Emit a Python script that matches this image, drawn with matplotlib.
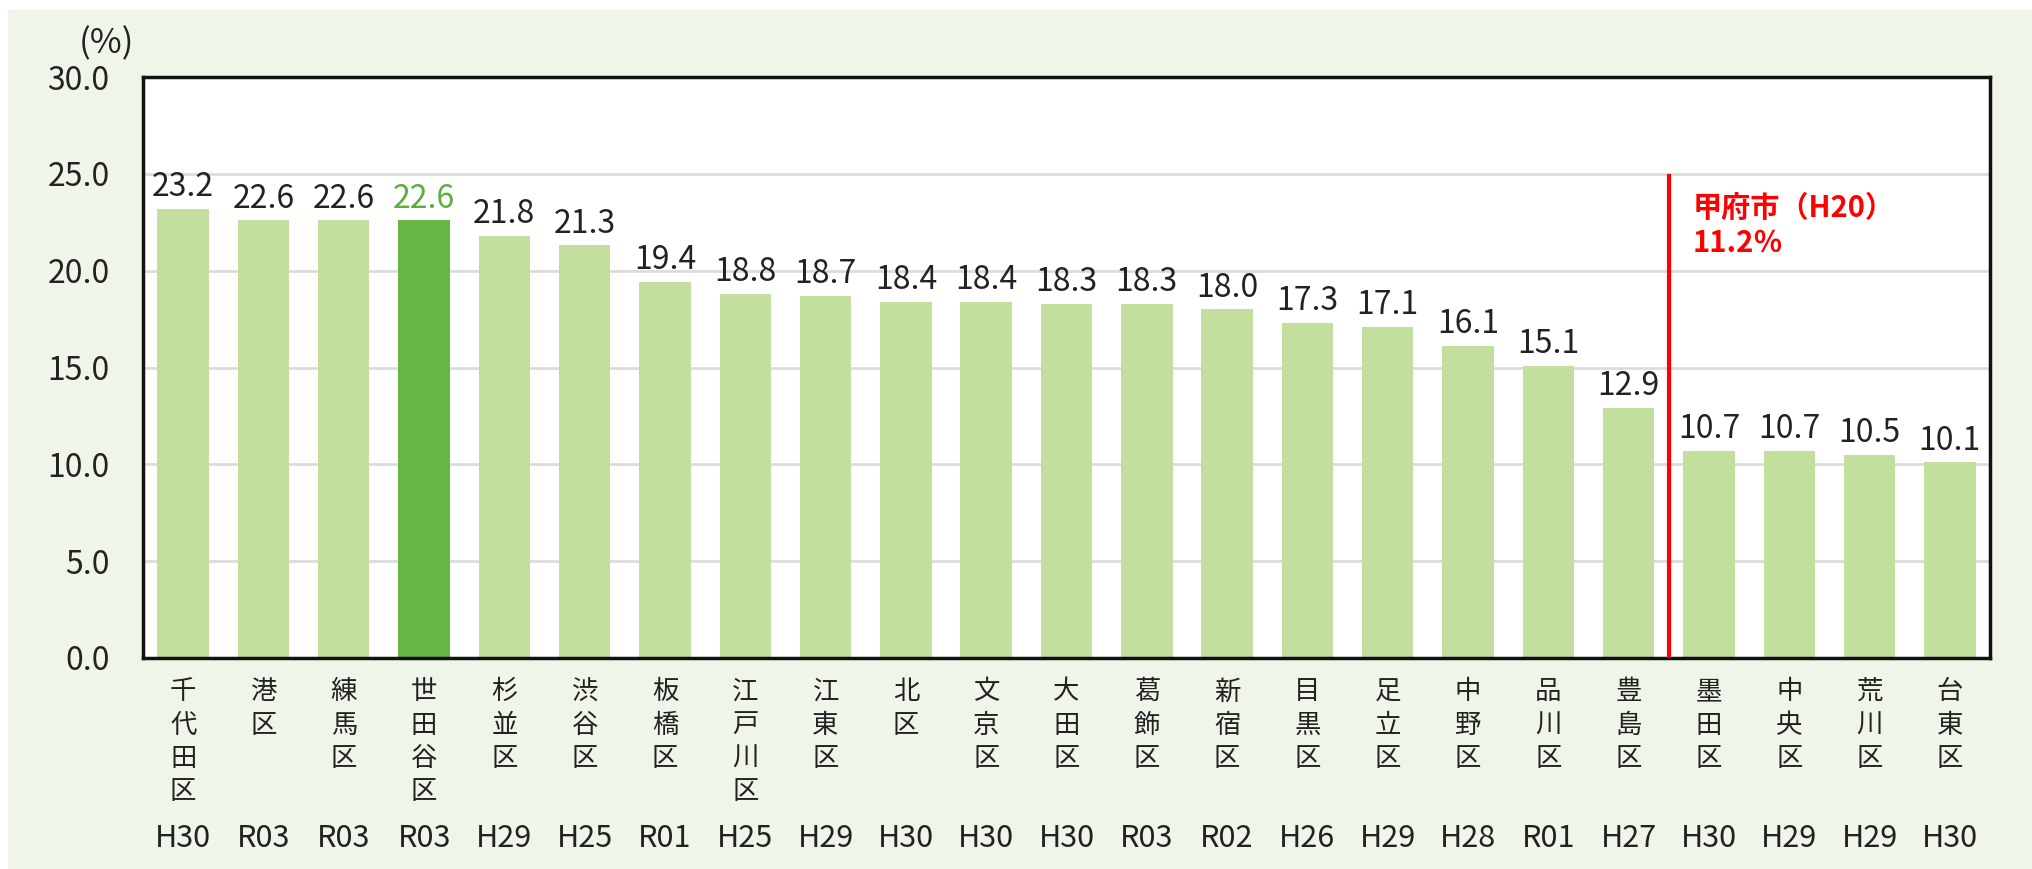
import matplotlib
matplotlib.use('Agg')
import matplotlib.pyplot as plt
from matplotlib.patches import Rectangle

plt.rcParams['font.family'] = ['Noto Sans CJK JP', 'DejaVu Sans']

# data
wards = ['千代田区', '港区', '練馬区', '世田谷区', '杉並区', '渋谷区', '板橋区', '江戸川区',
         '江東区', '北区', '文京区', '大田区', '葛飾区', '新宿区', '目黒区', '足立区',
         '中野区', '品川区', '豊島区', '墨田区', '中央区', '荒川区', '台東区']
years = ['H30', 'R03', 'R03', 'R03', 'H29', 'H25', 'R01', 'H25', 'H29', 'H30', 'H30', 'H30',
         'R03', 'R02', 'H26', 'H29', 'H28', 'R01', 'H27', 'H30', 'H29', 'H29', 'H30']
values = [23.2, 22.6, 22.6, 22.6, 21.8, 21.3, 19.4, 18.8, 18.7, 18.4, 18.4, 18.3,
          18.3, 18.0, 17.3, 17.1, 16.1, 15.1, 12.9, 10.7, 10.7, 10.5, 10.1]
highlight = '世田谷区'
kofu_label = '甲府市（H20）\n11.2％'
kofu_pos = 18.5   # between 豊島区 and 墨田区

light = '#C2DF9E'
dark = '#67B646'
bg = '#EFF6E9'

fig = plt.figure(figsize=(20.33, 8.69), dpi=100)
fig.patches.append(Rectangle((8/2033, 0), 1, 1 - 10/869, transform=fig.transFigure,
                             facecolor=bg, edgecolor='none', zorder=-10))

ax = fig.add_axes([143/2033, 1 - 658/869, (1990 - 143)/2033, (658 - 77)/869])
x = list(range(len(values)))
colors = [dark if w == highlight else light for w in wards]
ax.bar(x, values, width=0.64, color=colors, zorder=2)

for xi, v, w in zip(x, values, wards):
    ax.text(xi, v + 0.3, f'{v:.1f}', ha='center', va='bottom', fontsize=23,
            color='#5BAF3A' if w == highlight else '#222222')

ax.set_xlim(-0.5, len(values) - 0.5)
ax.set_ylim(0, 30)
ax.set_yticks([0, 5, 10, 15, 20, 25, 30])
ax.set_yticklabels([f'{t:.1f}' for t in [0, 5, 10, 15, 20, 25, 30]], fontsize=23, color='#222222')
ax.tick_params(axis='y', length=0, pad=24)
ax.set_xticks([])
ax.grid(axis='y', color='#DCDCDC', linewidth=2, zorder=0)
for s in ax.spines.values():
    s.set_linewidth(2.5)
    s.set_color('#111111')

fig.text(134/2033, 1 - 44/869, '(%)', ha='right', va='center', fontsize=25, color='#222222')

# vertical ward names and survey years
for xi, w, yr in zip(x, wards, years):
    ax.text(xi, -0.035, '\n'.join(w), transform=ax.get_xaxis_transform(), ha='center', va='top',
            fontsize=19, linespacing=1.3, color='#222222')
    ax.text(xi, -0.31, yr, transform=ax.get_xaxis_transform(), ha='center', va='center',
            fontsize=22, color='#222222')

# Kofu reference
ax.vlines(kofu_pos, 0, 25, color='#FF0000', linewidth=3, zorder=3)
ax.text(kofu_pos + 0.3, 24.0, kofu_label, ha='left', va='top', fontsize=21,
        fontweight='bold', color='#FF0000', linespacing=1.2)

fig.savefig('out.png', dpi=100)
